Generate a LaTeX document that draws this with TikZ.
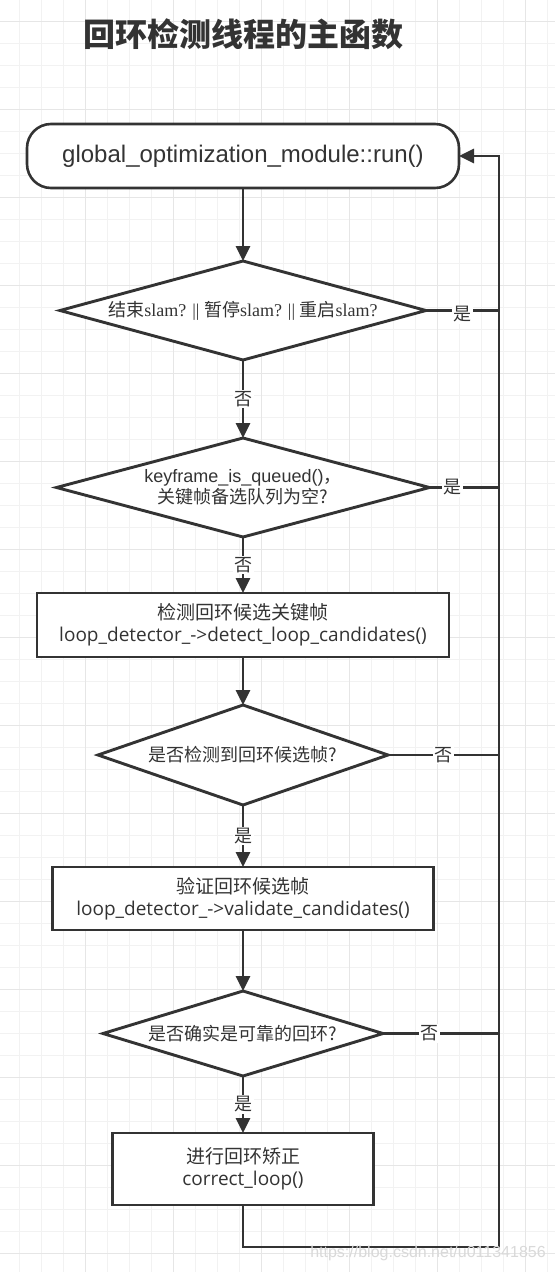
\documentclass[tikz,border=0pt]{standalone}
\usepackage{fontspec}
\setmainfont{Liberation Sans}
\newfontfamily\cjk{Noto Sans CJK SC}
\newfontfamily\serifmix{Liberation Serif}
\newfontfamily\codefont{Open Sans}
\usepackage{xcolor}
\usepackage{tikz}
\usetikzlibrary{arrows.meta,positioning,shapes.geometric}
\definecolor{Ink}{HTML}{333333}
\definecolor{GridMinor}{HTML}{F2F2F2}
\definecolor{GridMajor}{HTML}{E6E6E6}
\definecolor{Mark}{HTML}{D9D9D9}

\begin{document}
\begin{tikzpicture}[
  x=1pt,y=1pt,
  base/.style={draw=Ink,line width=2.9pt,fill=white,outer sep=0pt,align=center,text=Ink},
  term/.style={base,rounded corners=24pt,line width=2.6pt,minimum width=432pt,minimum height=64pt,font=\fontsize{24}{28}\selectfont},
  proc/.style={base,minimum height=64pt,inner sep=3pt,font=\codefont\fontsize{19}{22}\selectfont},
  check/.style={base,diamond,inner sep=0pt,font=\cjk\fontsize{18}{21}\selectfont},
  arrow/.style={-{Triangle[length=15pt,width=14pt]},line width=2.9pt,draw=Ink},
  link/.style={line width=2.9pt,draw=Ink},
  tag/.style={fill=white,inner sep=1.5pt,text=Ink,font=\cjk\fontsize{18}{21}\selectfont}
]
  \useasboundingbox (0,0) rectangle (555,-1272);
  \fill[white] (0,0) rectangle (555,-1272);
  % grid paper
  \foreach \gx in {-3,19,...,555} \draw[GridMinor,line width=1pt] (\gx,0) -- (\gx,-1272);
  \foreach \gy in {21,43,...,1272} \draw[GridMinor,line width=1pt] (0,-\gy) -- (555,-\gy);
  \foreach \gx in {85,173,...,555} \draw[GridMajor,line width=1pt] (\gx,0) -- (\gx,-1272);
  \foreach \gy in {21,109,...,1272} \draw[GridMajor,line width=1pt] (0,-\gy) -- (555,-\gy);

  \node[font=\cjk\bfseries\fontsize{32}{38}\selectfont,text=Ink] (title) at (243,-34) {回环检测线程的主函数};

  \node[term] (start) at (243,-156) {global\_optimization\_module::run()};
  \node[check,below=73pt of start,minimum width=366pt,minimum height=99pt,aspect=3.7] (quit)
    {结束{\serifmix slam? || }暂停{\serifmix slam? || }重启{\serifmix slam?}};
  \node[check,below=78pt of quit,minimum width=373pt,minimum height=99pt,aspect=3.77] (queue)
    {{\rmfamily keyframe\_is\_queued()}，\\关键帧备选队列为空?};
  \node[proc,below=56pt of queue,minimum width=412pt] (detect)
    {{\cjk 检测回环候选关键帧}\\loop\_detector\_->detect\_loop\_candidates()};
  \node[check,below=48pt of detect,minimum width=290pt,minimum height=100pt,aspect=2.9] (found)
    {是否检测到回环候选帧?};
  \node[proc,below=62pt of found,minimum width=381pt,minimum height=63pt] (verify)
    {{\cjk 验证回环候选帧}\\loop\_detector\_->validate\_candidates()};
  \node[check,below=61pt of verify,minimum width=280pt,minimum height=85pt,aspect=3.3] (valid)
    {是否确实是可靠的回环?};
  \node[proc,below=57pt of valid,minimum width=261pt,minimum height=72pt] (correct)
    {{\cjk 进行回环矫正}\\correct\_loop()};

  \coordinate (back) at (499,-156);
  \coordinate (corner) at (499,-1247);

  % main flow
  \draw[arrow] (start) -- (quit);
  \draw[arrow] (quit) -- node[tag]{否} (queue);
  \draw[arrow] (queue) -- node[tag]{否} (detect);
  \draw[arrow] (detect) -- (found);
  \draw[arrow] (found) -- node[tag]{是} (verify);
  \draw[arrow] (verify) -- (valid);
  \draw[arrow] (valid) -- node[tag]{是} (correct);

  % back to the loop head
  \draw[link] (quit.east) -- node[tag,yshift=-4pt]{是} (quit.east -| back);
  \draw[link] (queue.east) -- node[tag,pos=.33]{是} (queue.east -| back);
  \draw[link] (found.east) -- node[tag]{否} (found.east -| back);
  \draw[link] (valid.east) -- node[tag,pos=.4]{否} (valid.east -| back);
  \draw[arrow] (correct.south) |- (corner) -- (back) -- (start.east);

  \node[text=Mark,font=\fontsize{16}{18}\selectfont] (mark) at (428,-1253) {https://blog.csdn.net/u011341856};
\end{tikzpicture}
\end{document}
